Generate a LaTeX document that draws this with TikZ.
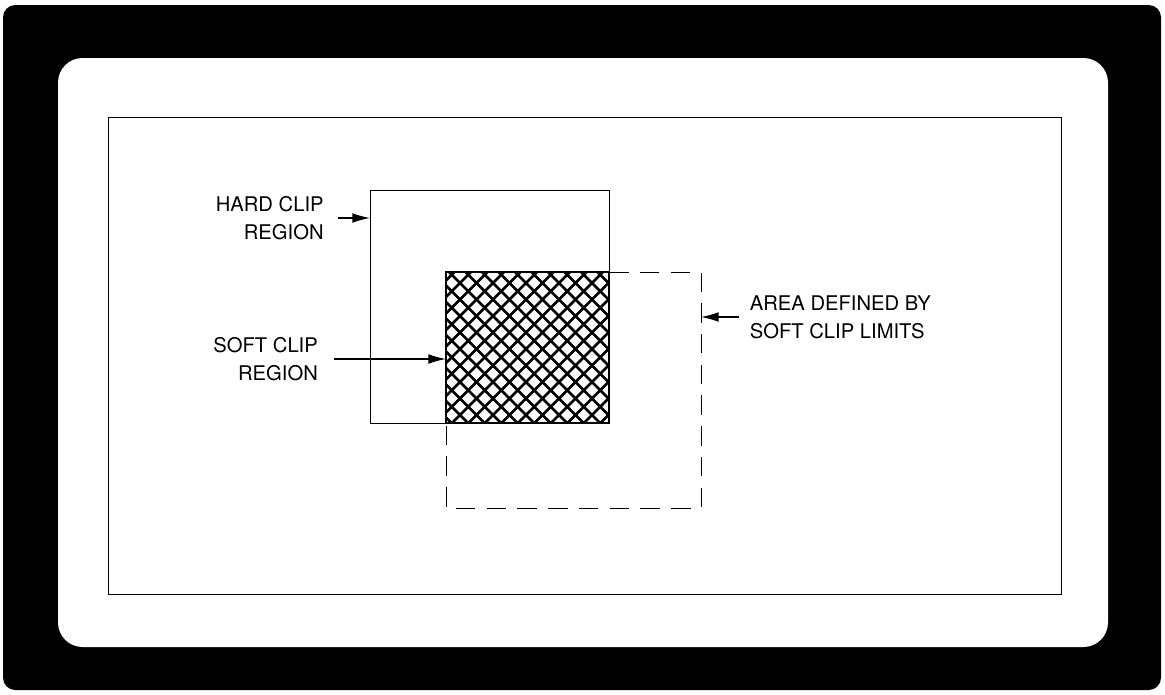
\documentclass[tikz,border=0pt]{standalone}
\usepackage{fontspec}
\setmainfont{TeX Gyre Heros}
\usetikzlibrary{positioning,arrows.meta}

\begin{document}
\begin{tikzpicture}[x=0.02cm,y=-0.02cm,
    lbl/.style={font=\fontsize{11.5}{16}\selectfont, inner ysep=0pt},
    ptr/.style={-{Latex[length=10pt,width=5.5pt]}, line width=0.7pt},
    hatch/.style={line width=1.5pt}]
    \useasboundingbox (0,0) rectangle (1165,694);

    % frame
    \fill[black, rounded corners=7pt] (3,5) rectangle (1161,690);
    \fill[white, rounded corners=14pt] (58,58) rectangle (1108,647);
    \draw[line width=0.5pt] (108,117) rectangle (1061,594);

    % corners of the regions
    \coordinate (hardNW) at (370,190);
    \coordinate (hardSE) at (609,423);
    \coordinate (softNW) at (446,272);
    \coordinate (softSE) at (701,508);

    % soft clip limits
    \draw[line width=0.5pt, dash pattern=on 11pt off 6.5pt] (softNW) rectangle (softSE);

    % hard clip region
    \draw[line width=0.5pt] (hardNW) rectangle (hardSE);

    % soft clip region (crosshatch)
    \begin{scope}
        \clip (softNW) rectangle (hardSE);
        \fill[white] (softNW) rectangle (hardSE);
        \foreach \c in {710,726.5,...,1045}
            \draw[hatch] (\c-200,200) -- (\c-500,500);
        \foreach \c in {12,28.5,...,345}
            \draw[hatch] (\c+200,200) -- (\c+500,500);
    \end{scope}
    \draw[line width=0.6pt] (softNW) rectangle (hardSE);

    % labels
    \node[lbl, align=right, anchor=east, inner xsep=8pt] (hard) at (338,218) {HARD CLIP\\REGION};
    \node[lbl, align=right, anchor=east, inner xsep=9pt] (soft) at (334,359) {SOFT CLIP\\REGION};
    \node[lbl, align=left, anchor=west, inner xsep=6pt] (area) at (739,317) {AREA DEFINED BY\\SOFT CLIP LIMITS};

    \draw[ptr] (hard.east) -- (hard.east -| hardNW);
    \draw[ptr] (soft.east) -- (soft.east -| softNW);
    \draw[ptr] (area.west) -- (area.west -| softSE);
\end{tikzpicture}
\end{document}
